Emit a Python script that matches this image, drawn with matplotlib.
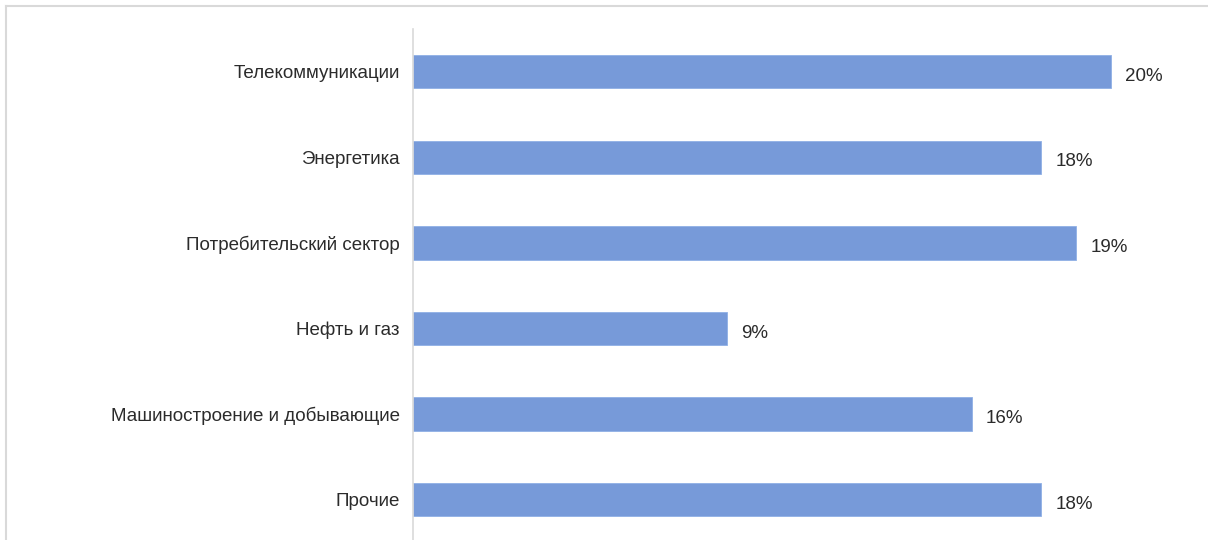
import matplotlib.pyplot as plt
from matplotlib.lines import Line2D

categories = [
    "Телекоммуникации",
    "Энергетика",
    "Потребительский сектор",
    "Нефть и газ",
    "Машиностроение и добывающие",
    "Прочие",
]
shares = [20, 18, 19, 9, 16, 18]

plt.rcParams['font.family'] = ['Liberation Sans', 'DejaVu Sans']

W, H = 1208, 540
fig = plt.figure(figsize=(W / 100, H / 100), dpi=100)

# axes placed in pixel terms: left spine at x=413, top at y=29
left, right, top, bottom = 413, 1181, 29, 540
ax = fig.add_axes([left / W, 1 - bottom / H, (right - left) / W, (bottom - top) / H])

ypos = list(range(len(categories)))
ax.barh(ypos, shares, height=0.39, color='#779ad9', edgecolor='#8fb0e6', linewidth=0.6)

for y, v in zip(ypos, shares):
    ax.text(v + 0.4, y + 0.03, f"{v}%", va='center_baseline', ha='left', fontsize=13.5, color='#2b2b2b')

ax.set_xlim(0, 22)
ax.set_ylim(5.47, -0.5)
ax.set_yticks(ypos)
ax.set_yticklabels(categories, fontsize=13.5, color='#2b2b2b', va='center_baseline')
ax.tick_params(axis='y', length=0, pad=9.5)
ax.set_xticks([])

for side in ('top', 'right', 'bottom'):
    ax.spines[side].set_visible(False)
ax.spines['left'].set_color('#d9d9d9')
ax.spines['left'].set_linewidth(1.2)

# light frame around the chart area
fig.add_artist(Line2D([6 / W, 1.0], [1 - 6 / H, 1 - 6 / H], color='#d9d9d9', lw=1.5))
fig.add_artist(Line2D([6 / W, 6 / W], [0, 1 - 6 / H], color='#d9d9d9', lw=1.5))

fig.savefig('out.png', dpi=100)
